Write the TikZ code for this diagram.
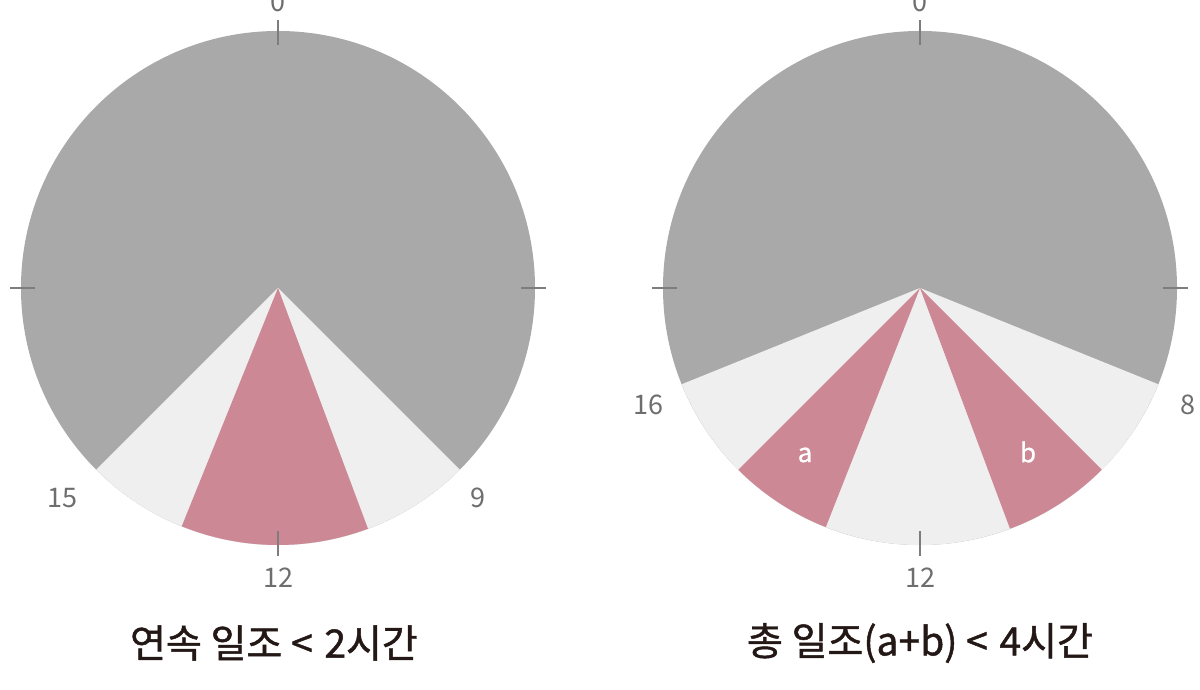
\documentclass[tikz,border=0pt]{standalone}
\usepackage{fontspec}
\usetikzlibrary{calc}
\setmainfont{Noto Sans CJK KR}
\newfontfamily\titlefont[FakeBold=1.2]{Noto Sans CJK KR}
\newfontfamily\secfont[FakeBold=0.8]{Noto Sans CJK KR}
\definecolor{darkgray}{HTML}{A9A9A9}
\definecolor{lightsec}{HTML}{EFEFEF}
\definecolor{pinksec}{HTML}{CD8896}
\definecolor{ticktxt}{HTML}{6E6E6E}
\definecolor{titletxt}{HTML}{231815}
\begin{document}
\begin{tikzpicture}[x=1pt,y=1pt,
  hourlbl/.style={text=ticktxt,font=\fontsize{27}{27}\selectfont,inner sep=0pt},
  seclbl/.style={text=white,font=\secfont\fontsize{26}{26}\selectfont,inner sep=0pt},
  titlelbl/.style={text=titletxt,font=\titlefont\fontsize{39}{39}\selectfont,inner sep=0pt},
  tickln/.style={draw=ticktxt!90,line width=1.3pt}]
\useasboundingbox (0,0) rectangle (1200,690);
\fill[white] (0,0) rectangle (1200,690);
\def\R{257}
% ---------- left chart ----------
\coordinate (cL) at (278,402);
\fill[darkgray] (cL) circle (\R);
\fill[lightsec] (cL) -- ++(-45:\R) arc (-45:-135:\R) -- cycle;
\fill[pinksec] (cL) -- ++(-69.5:\R) arc (-69.5:-112:\R) -- cycle;
\foreach \a in {0,90,180,270}{
  \draw[tickln] ($(cL)+(\a:243)$) -- ($(cL)+(\a:268)$);
}
\node[hourlbl] (l0) at (278,688) {0};
\node[hourlbl] (l15) at (62,192) {15};
\node[hourlbl] (l9) at (478,192) {9};
\node[hourlbl] (l12) at (278,112) {12};
\node[titlelbl] (tL) at (274,47) {연속 일조 <\hspace{3pt} 2시간};
% ---------- right chart ----------
\coordinate (cR) at (920,402);
\fill[darkgray] (cR) circle (\R);
\fill[lightsec] (cR) -- ++(-22:\R) arc (-22:-158:\R) -- cycle;
\fill[pinksec] (cR) -- ++(-45:\R) arc (-45:-69.5:\R) -- cycle;
\fill[pinksec] (cR) -- ++(-111.5:\R) arc (-111.5:-135:\R) -- cycle;
\foreach \a in {0,90,180,270}{
  \draw[tickln] ($(cR)+(\a:243)$) -- ($(cR)+(\a:268)$);
}
\node[hourlbl] (r0) at (920,688) {0};
\node[hourlbl] (r16) at (648,285) {16};
\node[hourlbl] (r8) at (1188,285) {8};
\node[hourlbl] (r12) at (920,112) {12};
\node[seclbl] (ra) at (805,235) {a};
\node[seclbl] (rb) at (1028,238) {b};
\node[titlelbl] (tR) at (920,47) {총 일조(a+b) <\hspace{3pt} 4시간};
\end{tikzpicture}
\end{document}
